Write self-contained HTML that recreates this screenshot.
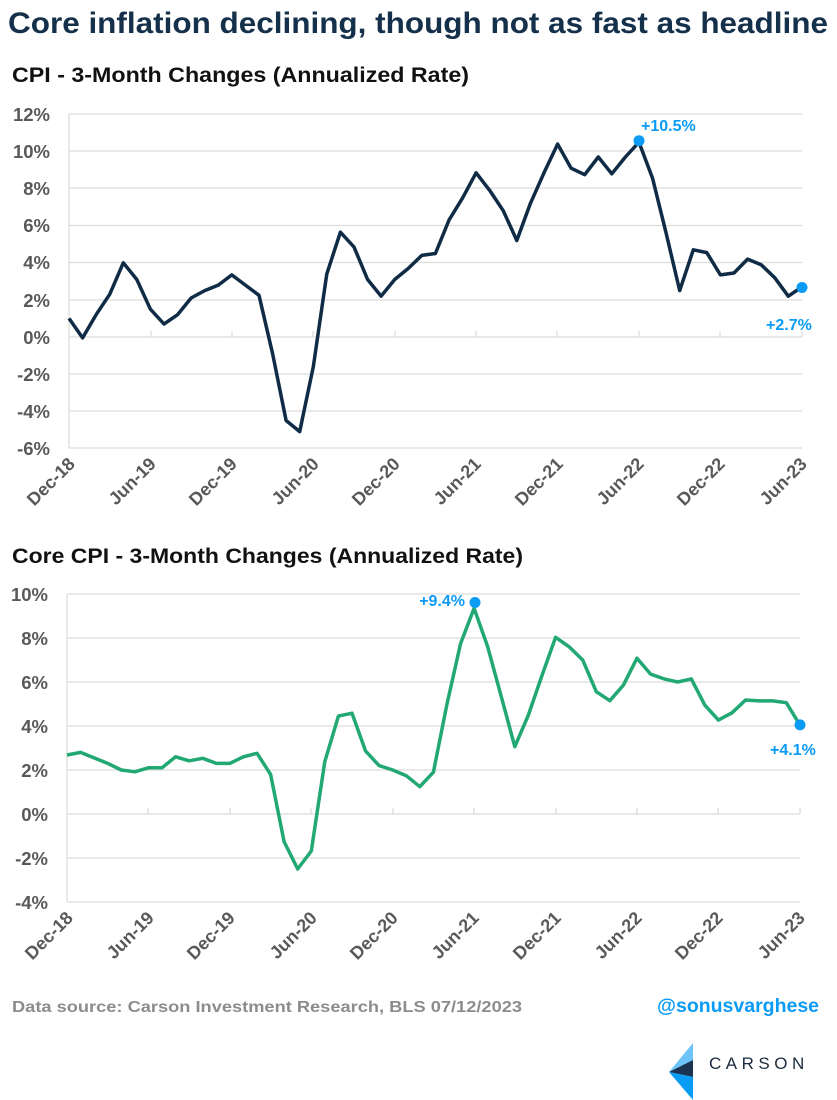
<!DOCTYPE html>
<html><head><meta charset="utf-8"><style>
body{margin:0;background:#fff;}
svg{display:block;font-family:"Liberation Sans",Arial,sans-serif;font-weight:bold;}
</style></head><body>
<svg width="837" height="1100" viewBox="0 0 837 1100" xmlns="http://www.w3.org/2000/svg">
<text x="8" y="33" font-size="30" fill="#15304a" textLength="820" lengthAdjust="spacingAndGlyphs">Core inflation declining, though not as fast as headline</text>
<text x="12" y="82" font-size="21" fill="#111" textLength="457" lengthAdjust="spacingAndGlyphs">CPI - 3-Month Changes (Annualized Rate)</text>
<g id="top">
<g stroke="#dcdcdc" stroke-width="1.3">
<line x1="69" x2="802" y1="114" y2="114"/><line x1="69" x2="802" y1="151" y2="151"/><line x1="69" x2="802" y1="188" y2="188"/><line x1="69" x2="802" y1="225.5" y2="225.5"/><line x1="69" x2="802" y1="262.5" y2="262.5"/><line x1="69" x2="802" y1="300" y2="300"/><line x1="69" x2="802" y1="337" y2="337"/><line x1="69" x2="802" y1="374" y2="374"/><line x1="69" x2="802" y1="411" y2="411"/><line x1="69" x2="802" y1="448" y2="448"/>
<line x1="69" x2="69" y1="114" y2="448" stroke="#e0ddd5"/>
<line x1="151" x2="151" y1="331" y2="337"/><line x1="232" x2="232" y1="331" y2="337"/><line x1="313" x2="313" y1="331" y2="337"/><line x1="395" x2="395" y1="331" y2="337"/><line x1="476" x2="476" y1="331" y2="337"/><line x1="557" x2="557" y1="331" y2="337"/><line x1="639" x2="639" y1="331" y2="337"/><line x1="720" x2="720" y1="331" y2="337"/><line x1="802" x2="802" y1="331" y2="337"/>
</g>
<g font-size="18.5" fill="#595959" text-anchor="end">
<text x="50" y="121">12%</text><text x="50" y="158">10%</text><text x="50" y="195">8%</text><text x="50" y="232">6%</text><text x="50" y="269">4%</text><text x="50" y="307">2%</text><text x="50" y="344">0%</text><text x="50" y="381">-2%</text><text x="50" y="418">-4%</text><text x="50" y="455">-6%</text>
</g>
<g font-size="18" fill="#595959" text-anchor="end">
<text transform="translate(76,465) rotate(-45)">Dec-18</text>
<text transform="translate(157,465) rotate(-45)">Jun-19</text>
<text transform="translate(238,465) rotate(-45)">Dec-19</text>
<text transform="translate(320,465) rotate(-45)">Jun-20</text>
<text transform="translate(401,465) rotate(-45)">Dec-20</text>
<text transform="translate(482,465) rotate(-45)">Jun-21</text>
<text transform="translate(564,465) rotate(-45)">Dec-21</text>
<text transform="translate(645,465) rotate(-45)">Jun-22</text>
<text transform="translate(726,465) rotate(-45)">Dec-22</text>
<text transform="translate(808,465) rotate(-45)">Jun-23</text>
</g>
<polyline fill="none" stroke="#0f2b45" stroke-width="3.5" stroke-linejoin="round" points="69.0,318.4 82.6,337.9 96.1,314.7 109.7,294.3 123.3,262.8 136.8,279.5 150.4,309.2 164.0,324.0 177.6,314.7 191.1,298.0 204.7,290.6 218.3,285.1 231.8,274.9 245.4,285.1 259.0,295.3 272.6,353.7 286.1,420.5 299.7,431.6 313.3,366.7 326.8,273.9 340.4,232.2 354.0,247.0 367.6,279.5 381.1,296.2 394.7,279.5 408.3,268.4 421.8,255.4 435.4,253.5 449.0,220.1 462.6,197.9 476.1,172.8 489.7,190.4 503.3,210.8 516.8,240.5 530.4,203.4 544.0,172.8 557.6,144.1 571.1,168.2 584.7,174.7 598.3,157.0 611.8,173.8 625.4,157.0 639.0,142.2 652.6,178.4 666.1,233.1 679.7,290.6 693.3,249.8 706.8,252.6 720.4,274.9 734.0,273.0 747.6,259.1 761.1,264.7 774.7,277.7 788.3,296.2 801.8,287.0"/>
<circle cx="639" cy="140.7" r="5.5" fill="#0a9bf5"/><circle cx="802" cy="287.5" r="5.5" fill="#0a9bf5"/>
<text x="641" y="131" font-size="16" fill="#0a9bf5">+10.5%</text>
<text x="766" y="330" font-size="16" fill="#0a9bf5">+2.7%</text>
</g>
<text x="12" y="563" font-size="21" fill="#111" textLength="511" lengthAdjust="spacingAndGlyphs">Core CPI - 3-Month Changes (Annualized Rate)</text>
<g id="bot">
<g stroke="#dcdcdc" stroke-width="1.3">
<line x1="67" x2="800" y1="594" y2="594"/><line x1="67" x2="800" y1="638" y2="638"/><line x1="67" x2="800" y1="682" y2="682"/><line x1="67" x2="800" y1="726" y2="726"/><line x1="67" x2="800" y1="770" y2="770"/><line x1="67" x2="800" y1="814" y2="814"/><line x1="67" x2="800" y1="858" y2="858"/><line x1="67" x2="800" y1="902" y2="902"/>
<line x1="67" x2="67" y1="594" y2="902" stroke="#e0ddd5"/>
<line x1="148" x2="148" y1="808" y2="814"/><line x1="230" x2="230" y1="808" y2="814"/><line x1="311" x2="311" y1="808" y2="814"/><line x1="393" x2="393" y1="808" y2="814"/><line x1="474" x2="474" y1="808" y2="814"/><line x1="556" x2="556" y1="808" y2="814"/><line x1="637" x2="637" y1="808" y2="814"/><line x1="718" x2="718" y1="808" y2="814"/><line x1="800" x2="800" y1="808" y2="814"/>
</g>
<g font-size="18.5" fill="#595959" text-anchor="end">
<text x="48" y="601">10%</text><text x="48" y="645">8%</text><text x="48" y="689">6%</text><text x="48" y="733">4%</text><text x="48" y="777">2%</text><text x="48" y="821">0%</text><text x="48" y="865">-2%</text><text x="48" y="909">-4%</text>
</g>
<g font-size="18" fill="#595959" text-anchor="end">
<text transform="translate(74,919) rotate(-45)">Dec-18</text>
<text transform="translate(155,919) rotate(-45)">Jun-19</text>
<text transform="translate(236,919) rotate(-45)">Dec-19</text>
<text transform="translate(318,919) rotate(-45)">Jun-20</text>
<text transform="translate(399,919) rotate(-45)">Dec-20</text>
<text transform="translate(480,919) rotate(-45)">Jun-21</text>
<text transform="translate(562,919) rotate(-45)">Dec-21</text>
<text transform="translate(643,919) rotate(-45)">Jun-22</text>
<text transform="translate(724,919) rotate(-45)">Dec-22</text>
<text transform="translate(806,919) rotate(-45)">Jun-23</text>
</g>
<polyline fill="none" stroke="#22a873" stroke-width="3.5" stroke-linejoin="round" points="67.0,755.0 80.6,752.4 94.1,757.9 107.7,763.4 121.3,770.0 134.8,771.8 148.4,767.8 162.0,767.8 175.6,756.8 189.1,760.8 202.7,758.3 216.3,763.4 229.8,763.4 243.4,756.8 257.0,753.3 270.6,774.4 284.1,841.7 297.7,869.0 311.3,851.0 324.8,761.6 338.4,716.1 352.0,713.2 365.6,751.1 379.1,765.6 392.7,770.0 406.3,775.7 419.8,786.7 433.4,772.2 447.0,704.0 460.6,643.5 474.1,608.3 487.7,646.8 501.3,696.7 514.8,746.7 528.4,715.0 542.0,675.4 555.6,637.3 569.1,646.8 582.7,660.0 596.3,691.7 609.8,700.7 623.4,685.1 637.0,658.2 650.6,674.1 664.1,678.9 677.7,682.0 691.3,678.9 704.8,705.1 718.4,720.1 732.0,712.8 745.6,700.0 759.1,700.9 772.7,700.9 786.3,702.7 799.8,724.9"/>
<circle cx="475" cy="602.5" r="5.5" fill="#0a9bf5"/><circle cx="800" cy="724.9" r="5.5" fill="#0a9bf5"/>
<text x="465" y="606" font-size="16" fill="#0a9bf5" text-anchor="end">+9.4%</text>
<text x="770" y="755" font-size="16" fill="#0a9bf5">+4.1%</text>
</g>
<text x="12" y="1012" font-size="16" fill="#8c8c8c" textLength="510" lengthAdjust="spacingAndGlyphs">Data source: Carson Investment Research, BLS    07/12/2023</text>
<text x="657" y="1012" font-size="19" fill="#0a9bf5" textLength="162" lengthAdjust="spacingAndGlyphs">@sonusvarghese</text>
<g transform="translate(669,1043)">
<polygon points="24,0 24,17 0,29" fill="#6cc3fa"/>
<polygon points="0,29 24,17 24,34" fill="#1a3350"/>
<polygon points="0,29 24,34 24,57" fill="#0a9bf5"/>
</g>
<text x="709" y="1069" font-size="17" fill="#1a2b3d" letter-spacing="4.5" font-weight="normal">CARSON</text>
</svg>
</body></html>
